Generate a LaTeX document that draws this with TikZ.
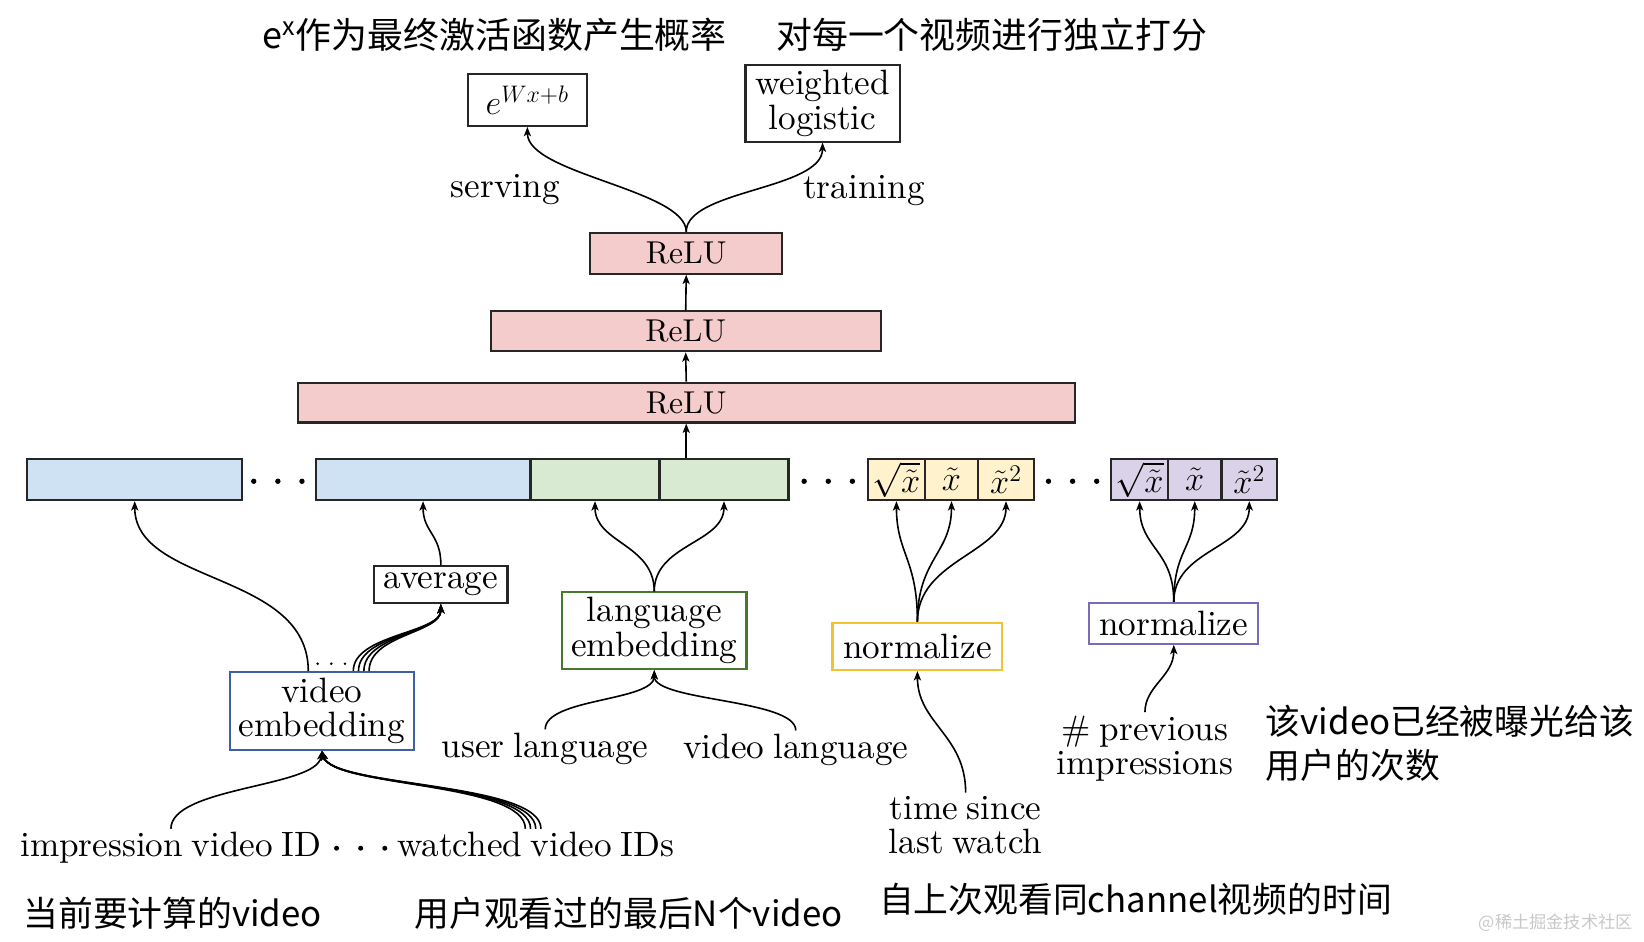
\documentclass[tikz,border=0pt]{standalone}
\usepackage{fontspec}
\setmainfont{lmroman10-regular.otf}[ItalicFont=lmroman10-italic.otf,BoldFont=lmroman10-bold.otf,WordSpace=0.75]
\newfontfamily\cjk{Noto Sans CJK SC}
\usetikzlibrary{arrows.meta,calc}
\definecolor{pinkf}{HTML}{F4CCCC}
\definecolor{bluef}{HTML}{CFE2F3}
\definecolor{greenf}{HTML}{D9EAD3}
\definecolor{yellowf}{HTML}{FFF2CC}
\definecolor{purplef}{HTML}{D9D2E9}
\definecolor{blueb}{RGB}{60,95,165}
\definecolor{greenb}{RGB}{70,120,50}
\definecolor{yellowb}{RGB}{241,194,50}
\definecolor{purpleb}{RGB}{125,105,185}
\definecolor{wmark}{RGB}{200,200,200}
\newcommand\labfont{\fontsize{17.6bp}{17.4bp}\selectfont}
\newcommand\relufont{\fontsize{15.8bp}{17bp}\selectfont}
\newcommand\cjkfont{\cjk\fontsize{17.4bp}{22bp}\selectfont}
\newcommand\cjktitle{\cjk\fontsize{17.95bp}{22bp}\selectfont}
\begin{document}
\begin{tikzpicture}[x=0.52423bp,y=-0.52423bp,
  box/.style={draw=black!85, line width=1.05bp, inner sep=0pt, font=\labfont, align=center},
  cell/.style={draw=black!85, line width=1.05bp, inner sep=0pt, minimum height=20.44bp, font=\labfont},
  lbl/.style={inner sep=1.5bp, font=\labfont, align=center},
  note/.style={inner sep=0pt, font=\cjkfont, align=left, anchor=west},
  arr/.style={line width=0.8bp, -{Stealth[length=4.7bp,width=3.6bp,inset=1.2bp]}},
  dot/.style={fill=black, circle, inner sep=0pt, minimum size=2.7bp}]
\useasboundingbox (0,0) rectangle (1568,897.5);

% titles
\node[note, font=\cjktitle] (t1) at (250,33) {e\textsuperscript{x}作为最终激活函数产生概率};
\node[note, font=\cjktitle] (t2) at (740,33) {对每一个视频进行独立打分};

% output boxes
\node[box, minimum width=59.76bp, minimum height=25.69bp] (ebox) at (503,95.5) {$e^{Wx+b}$};
\node[box, minimum width=77.06bp, minimum height=38.27bp] (wl) at (784.5,98.5) {weighted\\logistic};
\node[lbl] (serv) at (482,181) {serving};
\node[lbl] (train) at (824,182) {training};

% ReLU stack
\node[box, font=\relufont, fill=pinkf, minimum width=95.93bp, minimum height=20.44bp] (relu3) at (654.5,241.5) {ReLU};
\node[box, font=\relufont, fill=pinkf, minimum width=195.01bp, minimum height=19.92bp] (relu2) at (654,316) {ReLU};
\node[box, font=\relufont, fill=pinkf, minimum width=388.45bp, minimum height=19.92bp] (relu1) at (654.5,384) {ReLU};

% embedding row
\node[cell, fill=bluef, minimum width=107.47bp] (b1) at (128.5,457.5) {};
\node[cell, fill=bluef, minimum width=107.47bp] (b2) at (403.5,457.5) {};
\node[cell, fill=greenf, minimum width=64.48bp] (g1) at (567.5,457.5) {};
\node[cell, fill=greenf, minimum width=64.48bp] (g2) at (690.5,457.5) {};
\node[cell, fill=yellowf, minimum width=28.31bp] (y1) at (855,457.5) {$\sqrt{\tilde{x}}$};
\node[cell, fill=yellowf, minimum width=26.74bp] (y2) at (907.5,457.5) {$\tilde{x}$};
\node[cell, fill=yellowf, minimum width=27.78bp] (y3) at (959.5,457.5) {$\tilde{x}^2$};
\node[cell, fill=purplef, minimum width=28.31bp] (p1) at (1087,457.5) {$\sqrt{\tilde{x}}$};
\node[cell, fill=purplef, minimum width=26.74bp] (p2) at (1139.5,457.5) {$\tilde{x}$};
\node[cell, fill=purplef, minimum width=27.78bp] (p3) at (1191.5,457.5) {$\tilde{x}^2$};
\foreach \x in {242,265,288, 767,790,813, 1000,1023,1046}
  \node[dot] at (\x,459) {};

% middle nodes
\node[box, minimum width=66.58bp, minimum height=18.35bp] (avg) at (420.5,557.5) {average};
\node[box, draw=blueb, minimum width=92.26bp, minimum height=38.79bp] (vemb) at (307,678) {video\\embedding};
\node[box, draw=greenb, minimum width=92.26bp, minimum height=38.27bp] (lemb) at (624,601.5) {language\\embedding};
\node[box, draw=yellowb, minimum width=84.93bp, minimum height=23.59bp] (ny) at (875,616.5) {normalize};
\node[box, draw=purpleb, minimum width=84.4bp, minimum height=20.44bp] (np) at (1119.5,594.5) {normalize};

% input labels
\node[lbl] (ulang) at (520,714) {user language};
\node[lbl] (vlang) at (759,715) {video language};
\node[lbl] (tsince) at (921,787) {time since\\last watch};
\node[lbl] (prev) at (1092,714) {\# previous\\impressions};
\node[lbl, anchor=base] (imp) at (163,817) {impression video ID};
\node[lbl, anchor=base] (watched) at (511,817) {watched video IDs};
\foreach \x in {321,344,367}
  \node[dot, minimum size=2.5bp] at (\x,809) {};
\foreach \x in {303,316,329}
  \node[dot, minimum size=1.4bp] at (\x,633) {};

% bottom notes
\node[note] (n1) at (22,871) {当前要计算的video};
\node[note] (n2) at (395,871) {用户观看过的最后N个video};
\node[note] (n3) at (838,858) {自上次观看同channel视频的时间};
\node[note] (n4) at (1207,709) {该video已经被曝光给该\\用户的次数};
\node[inner sep=0pt, anchor=west, text=wmark, font=\cjk\fontsize{8.6bp}{10bp}\selectfont] (wm) at (1410,880) {@稀土掘金技术社区};

% connectors: top
\draw[arr] (relu3.north) .. controls +(0,-40) and +(0,45) .. (ebox.south);
\draw[arr] (relu3.north) .. controls +(0,-40) and +(0,45) .. (wl.south);
\draw[arr] (relu2.north) -- (relu3.south);
\draw[arr] (relu1.north) -- (relu2.south);
\draw[arr] (relu1.south |- g2.north) -- (relu1.south);

% video embedding
\draw[arr] ([xshift=-6.8bp]vemb.north) .. controls +(0,-95) and +(0,80) .. (b1.south);
\foreach \d in {15.7,18.3,21,23.6}
  \draw[arr] ([xshift=\d bp]vemb.north) .. controls +(0,-35) and +(0,28) .. (avg.south);
\draw[arr] (avg.north) .. controls +(0,-30) and +(0,30) .. (b2.south);

% language
\draw[arr] (lemb.north) .. controls +(0,-45) and +(0,40) .. (g1.south);
\draw[arr] (lemb.north) .. controls +(0,-45) and +(0,40) .. (g2.south);
\draw[arr] (ulang.north) .. controls +(0,-30) and +(0,30) .. (lemb.south);
\draw[arr] (vlang.north) .. controls +(0,-30) and +(0,30) .. (lemb.south);

% normalize yellow
\draw[arr] (ny.north) .. controls +(0,-60) and +(0,50) .. (y1.south);
\draw[arr] (ny.north) .. controls +(0,-60) and +(0,50) .. (y2.south);
\draw[arr] (ny.north) .. controls +(0,-60) and +(0,50) .. (y3.south);
\draw[arr] (tsince.north) .. controls +(0,-55) and +(0,50) .. (ny.south);

% normalize purple
\draw[arr] (np.north) .. controls +(0,-50) and +(0,45) .. (p1.south);
\draw[arr] (np.north) .. controls +(0,-50) and +(0,45) .. (p2.south);
\draw[arr] (np.north) .. controls +(0,-50) and +(0,45) .. (p3.south);
\draw[arr] (prev.north) .. controls +(0,-25) and +(0,30) .. (np.south);

% inputs to video embedding
\draw[arr] (imp.north) .. controls +(0,-40) and +(-5,35) .. (vemb.south);
\foreach \d in {-5.2,-2.6,0,2.6}
  \draw[arr] ([xshift=\d bp]watched.north) .. controls +(0,-45) and +(10,35) .. (vemb.south);
\end{tikzpicture}
\end{document}
